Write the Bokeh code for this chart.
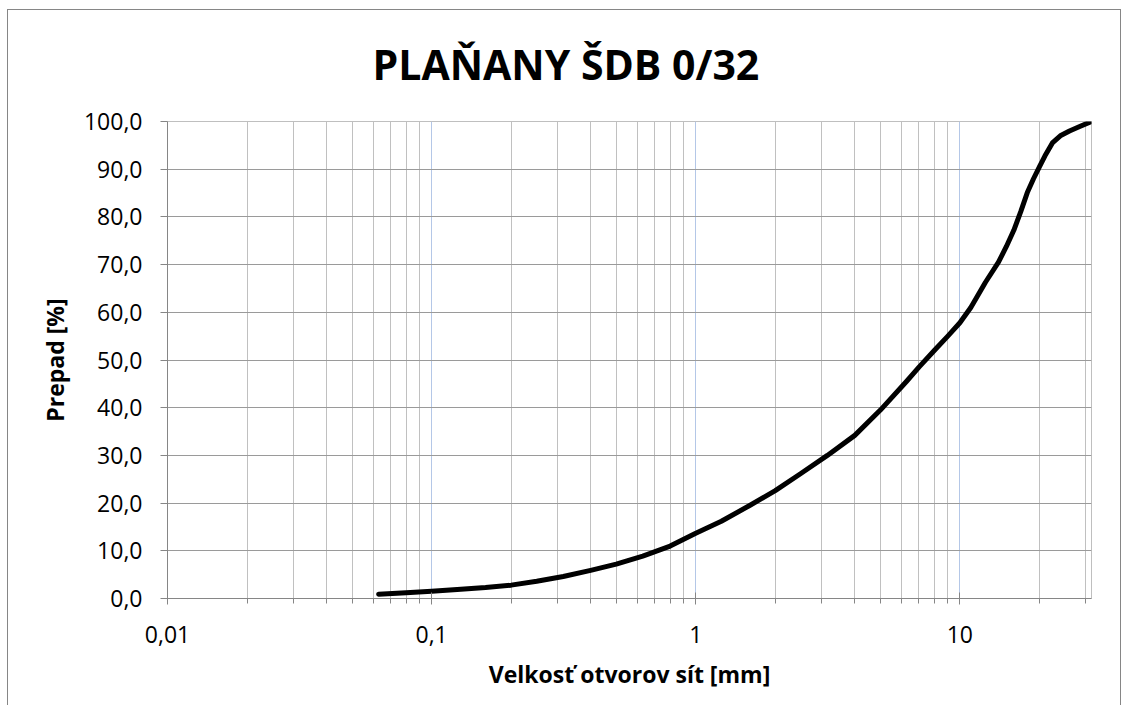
from bokeh.plotting import figure
from bokeh.models import FixedTicker, Range1d
from bokeh.embed import file_html
from bokeh.resources import INLINE

# ---- data ----
sieve_mm = [0.063, 0.08, 0.1, 0.125, 0.16, 0.2, 0.25, 0.315, 0.4, 0.5, 0.63, 0.8,
            1, 1.25, 1.6, 2, 2.5, 3.15, 4, 5, 6.3, 7, 8, 9, 10, 11, 12.5, 14,
            15, 16, 17, 18, 19, 20, 21, 22.4, 24, 26, 28, 31.5]
passing_pct = [0.9, 1.2, 1.5, 1.9, 2.3, 2.8, 3.6, 4.6, 5.9, 7.2, 8.9, 11.0,
               13.7, 16.2, 19.5, 22.6, 26.2, 30.0, 34.2, 39.5, 45.6, 48.5, 52.0,
               55.0, 57.8, 61.0, 66.3, 70.5, 73.8, 77.2, 81.1, 85.1, 88.0, 90.5,
               92.8, 95.5, 97.0, 98.0, 98.8, 100.0]

x_major = [0.01, 0.1, 1, 10]
x_major_labels = ["0,01", "0,1", "1", "10"]
x_max = 31.5
y_ticks = [0, 10, 20, 30, 40, 50, 60, 70, 80, 90, 100]
y_tick_labels = ["0,0", "10,0", "20,0", "30,0", "40,0", "50,0", "60,0",
                 "70,0", "80,0", "90,0", "100,0"]
title_text = "PLAŇANY ŠDB 0/32"
x_title = "Velkosť otvorov sít [mm]"
y_title = "Prepad [%]"

FONT = "Open Sans"
AXIS_GRAY = "#868686"

x_minor = []
for d in x_major:
    for m in range(2, 10):
        v = round(m * d, 6)
        if v <= x_max:
            x_minor.append(v)

p = figure(width=1114, height=705, x_axis_type="log",
           x_range=Range1d(0.01, x_max), y_range=Range1d(0, 100),
           output_backend="svg", toolbar_location=None,
           min_border_left=160, min_border_right=30,
           min_border_top=121, min_border_bottom=107)

p.margin = (0, 0, 0, 7)
# outer chart-area frame (top line sits a little below the page top)
g = "linear-gradient(#868686,#868686)"
p.styles = {"background": (f"{g} 0 9px / 100% 1px no-repeat, "
                           f"{g} 0 9px / 1px 100% no-repeat, "
                           f"{g} right 0 top 9px / 1px 100% no-repeat, white")}
p.border_fill_color = None

p.title.text = title_text
p.title.align = "left"
p.title.offset = 205
p.title.text_font = FONT
p.title.text_font_size = "41px"
p.title.text_font_style = "bold"
p.title.text_color = "black"
p.title.standoff = 60

p.outline_line_color = "#BFBFBF"
p.background_fill_color = "white"

# x axis
p.xaxis.ticker = FixedTicker(ticks=x_major, minor_ticks=x_minor)
p.xaxis.major_label_overrides = {t: l for t, l in zip(x_major, x_major_labels)}
p.xaxis.axis_label = x_title
p.xaxis.axis_label_text_font = FONT
p.xaxis.axis_label_text_font_size = "23px"
p.xaxis.axis_label_text_font_style = "bold"
p.xaxis.axis_label_text_color = "black"
p.xaxis.axis_label_standoff = 12
p.xaxis.major_label_text_font = FONT
p.xaxis.major_label_text_font_size = "23px"
p.xaxis.major_label_text_color = "black"
p.xaxis.major_label_standoff = 21
p.xaxis.axis_line_color = AXIS_GRAY
p.xaxis.major_tick_line_color = AXIS_GRAY
p.xaxis.minor_tick_line_color = AXIS_GRAY
p.xaxis.major_tick_out = 6
p.xaxis.major_tick_in = 6
p.xaxis.minor_tick_out = 5
p.xaxis.minor_tick_in = 0

# y axis
p.yaxis.ticker = FixedTicker(ticks=y_ticks)
p.yaxis.major_label_overrides = {t: l for t, l in zip(y_ticks, y_tick_labels)}
p.yaxis.axis_label = y_title
p.yaxis.axis_label_text_font = FONT
p.yaxis.axis_label_text_font_size = "23px"
p.yaxis.axis_label_text_font_style = "bold"
p.yaxis.axis_label_text_color = "black"
p.yaxis.axis_label_standoff = 10
p.yaxis.major_label_text_font = FONT
p.yaxis.major_label_text_font_size = "23px"
p.yaxis.major_label_text_color = "black"
p.yaxis.major_label_standoff = 18
p.yaxis.axis_line_color = AXIS_GRAY
p.yaxis.major_tick_line_color = AXIS_GRAY
p.yaxis.major_tick_out = 7
p.yaxis.major_tick_in = 0
p.yaxis.minor_tick_line_color = None

# grids
p.xgrid.grid_line_color = "#B4C7E7"
p.xgrid.grid_line_width = 1
p.xgrid.minor_grid_line_color = "#C0C0C0"
p.xgrid.minor_grid_line_width = 1
p.ygrid.grid_line_color = "#9A9A9A"
p.ygrid.grid_line_width = 1

p.line(sieve_mm, passing_pct, line_color="black", line_width=5,
       line_cap="round", line_join="round")

open("out.html", "w").write(file_html(p, INLINE))
